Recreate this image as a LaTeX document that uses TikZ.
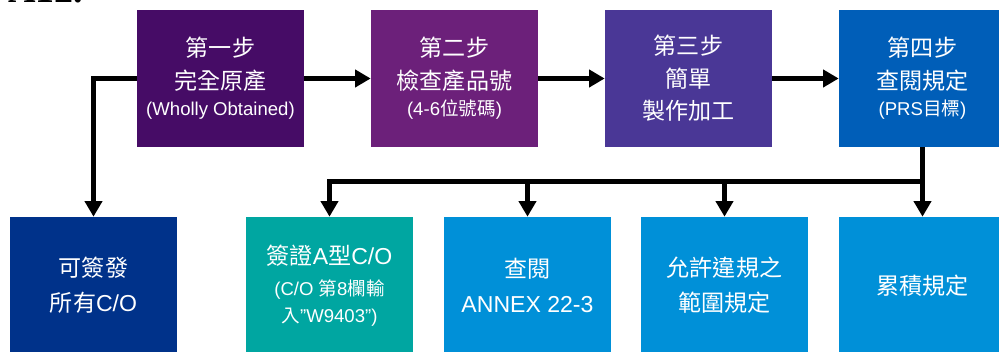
\documentclass[tikz,border=0pt]{standalone}
\usepackage{fontspec}
\setmainfont{Liberation Sans}
\newfontfamily\cjk{Noto Sans CJK TC}
\newfontfamily\headfont{Liberation Serif}
\usetikzlibrary{arrows.meta,positioning}
\newcommand{\zh}[1]{{\cjk #1}}
\newcommand{\bigtxt}{\fontsize{16.4}{23}\selectfont}
\newcommand{\smtxt}{\fontsize{13.2}{23}\selectfont}
\definecolor{stepone}{RGB}{70,12,102}
\definecolor{steptwo}{RGB}{108,32,122}
\definecolor{stepthree}{RGB}{74,55,150}
\definecolor{stepfour}{RGB}{0,94,184}
\definecolor{allco}{RGB}{0,50,138}
\definecolor{typea}{RGB}{0,166,161}
\definecolor{rulebox}{RGB}{0,144,216}
\tikzset{>={Triangle[length=11pt,width=12pt]},%
  stepbox/.style={rectangle,minimum width=4.175cm,minimum height=3.425cm,
    inner sep=0pt,text=white,align=center,font=\bigtxt},
  flow/.style={line width=3.2pt,->}}

\begin{document}
\begin{tikzpicture}[x=0.025cm,y=0.025cm]
  \useasboundingbox (0,0) rectangle (999,352);
  \clip (0,0) rectangle (999,352);
  \node[anchor=base west,inner sep=0pt,font=\headfont\bfseries\fontsize{27}{27}\selectfont] (head) at (8,349.5) {A12.};
  \node[stepbox,fill=stepone] (s1) at (220.5,273.5)
    {\zh{第一步}\\\zh{完全原產}\\[-4pt]{\smtxt(Wholly Obtained)}};
  \node[stepbox,fill=steptwo] (s2) at (454.5,273.5)
    {\zh{第二步}\\\zh{檢查產品號}\\[-4pt]{\smtxt(4-6\zh{位號碼})}};
  \node[stepbox,fill=stepthree] (s3) at (688.5,273.5)
    {\zh{第三步}\\\zh{簡單}\\\zh{製作加工}};
  \node[stepbox,fill=stepfour] (s4) at (922.5,273.5)
    {\zh{第四步}\\\zh{查閱規定}\\[-4pt]{\smtxt(PRS\zh{目標})}};
  \node[stepbox,fill=allco] (a) at (93.5,66.5) {\zh{可簽發}\\[2pt]\zh{所有}C/O};
  \node[stepbox,fill=typea] (b) at (329.5,66.5)
    {\zh{簽證}A\zh{型}C/O\\[-1pt]{\smtxt(C/O \zh{第}8\zh{欄輸}}\\[-4pt]{\smtxt\zh{入}”W9403”)}};
  \node[stepbox,fill=rulebox] (c) at (527.5,66.5) {\zh{查閱}\\[2pt]ANNEX 22-3};
  \node[stepbox,fill=rulebox] (d) at (724.5,66.5) {\zh{允許違規之}\\[2pt]\zh{範圍規定}};
  \node[stepbox,fill=rulebox] (e) at (922.5,66.5) {\zh{累積規定}};
  \coordinate (split) at (922.5,170.5);
  \draw[flow] (s1) -- (s2);
  \draw[flow] (s2) -- (s3);
  \draw[flow] (s3) -- (s4);
  \draw[flow] (s1.west) -| (a.north);
  \draw[flow] (s4.south) -- (e.north);
  \draw[flow] (split) -| (b.north);
  \draw[flow] (c.north |- split) -- (c.north);
  \draw[flow] (d.north |- split) -- (d.north);
\end{tikzpicture}
\end{document}
